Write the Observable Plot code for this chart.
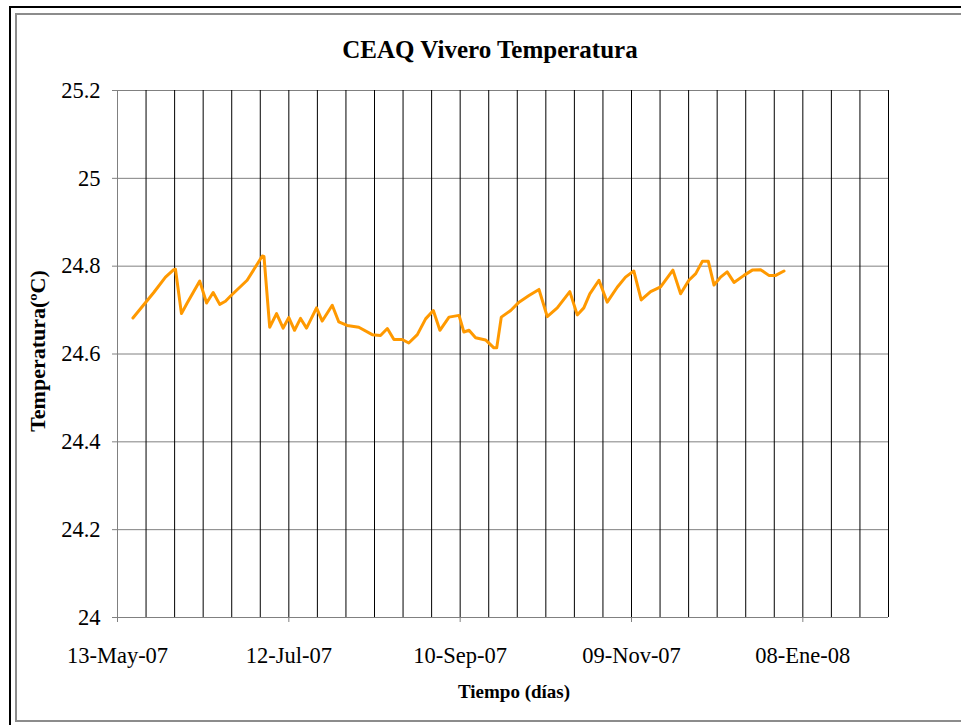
<!DOCTYPE html>
<html>
<head>
<meta charset="utf-8">
<script src="https://cdn.jsdelivr.net/npm/d3@7"></script>
<script src="https://cdn.jsdelivr.net/npm/@observablehq/plot@0.6"></script>
<style>
  html, body { margin: 0; padding: 0; background: #fff; }
  body { width: 961px; height: 725px; overflow: hidden; position: relative; font-family: "Liberation Serif", Tinos, "Times New Roman", Times, "Nimbus Roman", "DejaVu Serif", serif; }
  #outer { position: absolute; left: 9px; top: 6px; width: 1100px; height: 1000px; border-left: 2px solid #000; border-top: 2px solid #000; }
  #inner { position: absolute; left: 15px; top: 13px; width: 1100px; height: 705px; border: 2px solid #8c8c8c; }
  #chart { position: absolute; left: 0; top: 0; }
  .title { position: absolute; left: 0; top: 36px; width: 980px; text-align: center; font-weight: bold; font-size: 25px; }
  .ylab { position: absolute; left: 38px; top: 351px; transform: translate(-50%, -50%) rotate(-90deg); white-space: nowrap; font-weight: bold; font-size: 22px; }
  .xlab { position: absolute; left: 0; top: 681px; width: 1028px; text-align: center; font-weight: bold; font-size: 19px; }
  #chart svg text { font-family: "Liberation Serif", Tinos, "Times New Roman", Times, "Nimbus Roman", "DejaVu Serif", serif; }
</style>
</head>
<body>
<div id="outer"></div>
<div id="inner"></div>
<div id="chart"></div>
<div class="title">CEAQ Vivero Temperatura</div>
<div class="ylab">Temperatura(ºC)</div>
<div class="xlab">Tiempo (días)</div>
<script>
// Días transcurridos desde el 13-May-07 y temperatura (ºC)
const dias = [5.4, 12.7, 16.8, 19.7, 20.3, 22.4, 24.4, 28.8, 31.2, 33.5, 35.8, 37.8, 39.6, 45.4, 50.7, 51.3,
  53.3, 55.7, 58.0, 60.0, 62.0, 64.1, 66.2, 69.7, 71.7, 75.2, 77.5, 80.4, 84.5, 89.2, 92.1, 94.5,
  96.8, 99.7, 102.0, 105.0, 107.9, 110.6, 112.9, 116.1, 119.6, 121.3, 123.1, 125.4, 128.9, 131.8, 132.8,
  134.4, 137.7, 140.6, 144.1, 147.6, 150.5, 154.0, 158.4, 161.0, 163.3, 165.4, 168.6, 171.5, 175.0,
  177.9, 180.8, 183.4, 186.7, 190.2, 194.5, 197.2, 200.1, 202.5, 204.8, 206.9, 208.9, 211.2, 213.5,
  215.9, 219.4, 222.3, 225.2, 228.1, 230.5, 233.4];
const temperaturas = [24.682, 24.740, 24.775, 24.792, 24.793, 24.692, 24.716, 24.766, 24.716, 24.740, 24.713, 24.720, 24.732, 24.768, 24.823, 24.822,
  24.661, 24.692, 24.659, 24.683, 24.654, 24.681, 24.659, 24.705, 24.675, 24.711, 24.673, 24.665, 24.661, 24.644, 24.642, 24.658,
  24.633, 24.633, 24.625, 24.644, 24.680, 24.699, 24.654, 24.684, 24.688, 24.650, 24.654, 24.637, 24.632, 24.614, 24.614,
  24.684, 24.699, 24.718, 24.733, 24.747, 24.685, 24.705, 24.742, 24.689, 24.705, 24.737, 24.768, 24.718, 24.752,
  24.775, 24.789, 24.723, 24.742, 24.753, 24.791, 24.737, 24.768, 24.783, 24.811, 24.811, 24.757, 24.775, 24.787,
  24.763, 24.779, 24.791, 24.792, 24.779, 24.779, 24.789];

const inicio = "2007-05-13";
const diasTotales = 270;
const xTickDias = [0, 60, 120, 180, 240];
const xTickLabels = ["13-May-07", "12-Jul-07", "10-Sep-07", "09-Nov-07", "08-Ene-08"];
const gridDias = [10, 20, 30, 40, 50, 60, 70, 80, 90, 100, 110, 120, 130, 140, 150, 160, 170, 180, 190, 200, 210, 220, 230, 240, 250, 260, 270];
const yTicks = [24, 24.2, 24.4, 24.6, 24.8, 25, 25.2];
const yTickLabels = ["24", "24.2", "24.4", "24.6", "24.8", "25", "25.2"];

const t0 = new Date(inicio + "T00:00:00Z");
const DAY = 86400000;
const toDate = d => new Date(t0.getTime() + d * DAY);

const data = dias.map((d, i) => ({fecha: toDate(d), temp: temperaturas[i]}));
const xTicks = xTickDias.map(toDate);

const chart = Plot.plot({
  width: 961,
  height: 725,
  marginLeft: 117,
  marginRight: 73,
  marginTop: 90,
  marginBottom: 108,
  style: {fontSize: "22.5px", color: "#000", background: "transparent"},
  x: {type: "utc", domain: [t0, toDate(diasTotales)]},
  y: {domain: [24, 25.2]},
  marks: [
    Plot.ruleY(yTicks, {y: d => d, stroke: "#808080", strokeWidth: 1}),
    Plot.ruleX(gridDias.map(toDate), {x: d => d, stroke: "#000", strokeWidth: 1}),
    Plot.ruleX([t0], {x: d => d, stroke: "#808080", strokeWidth: 1}),
    Plot.axisY({ticks: yTicks, tickSize: 5, tickPadding: 12, stroke: "#808080", fill: "#000",
      tickFormat: d => yTickLabels[yTicks.indexOf(d)], label: null}),
    Plot.axisX({ticks: xTicks, tickSize: 5, tickPadding: 25, stroke: "#808080", fill: "#000",
      tickFormat: (d) => xTickLabels[xTicks.findIndex(t => t.getTime() === d.getTime())], label: null}),
    Plot.line(data, {x: "fecha", y: "temp", stroke: "#FF9900", strokeWidth: 3, strokeLinejoin: "round"})
  ]
});
document.getElementById("chart").appendChild(chart);
</script>
</body>
</html>
